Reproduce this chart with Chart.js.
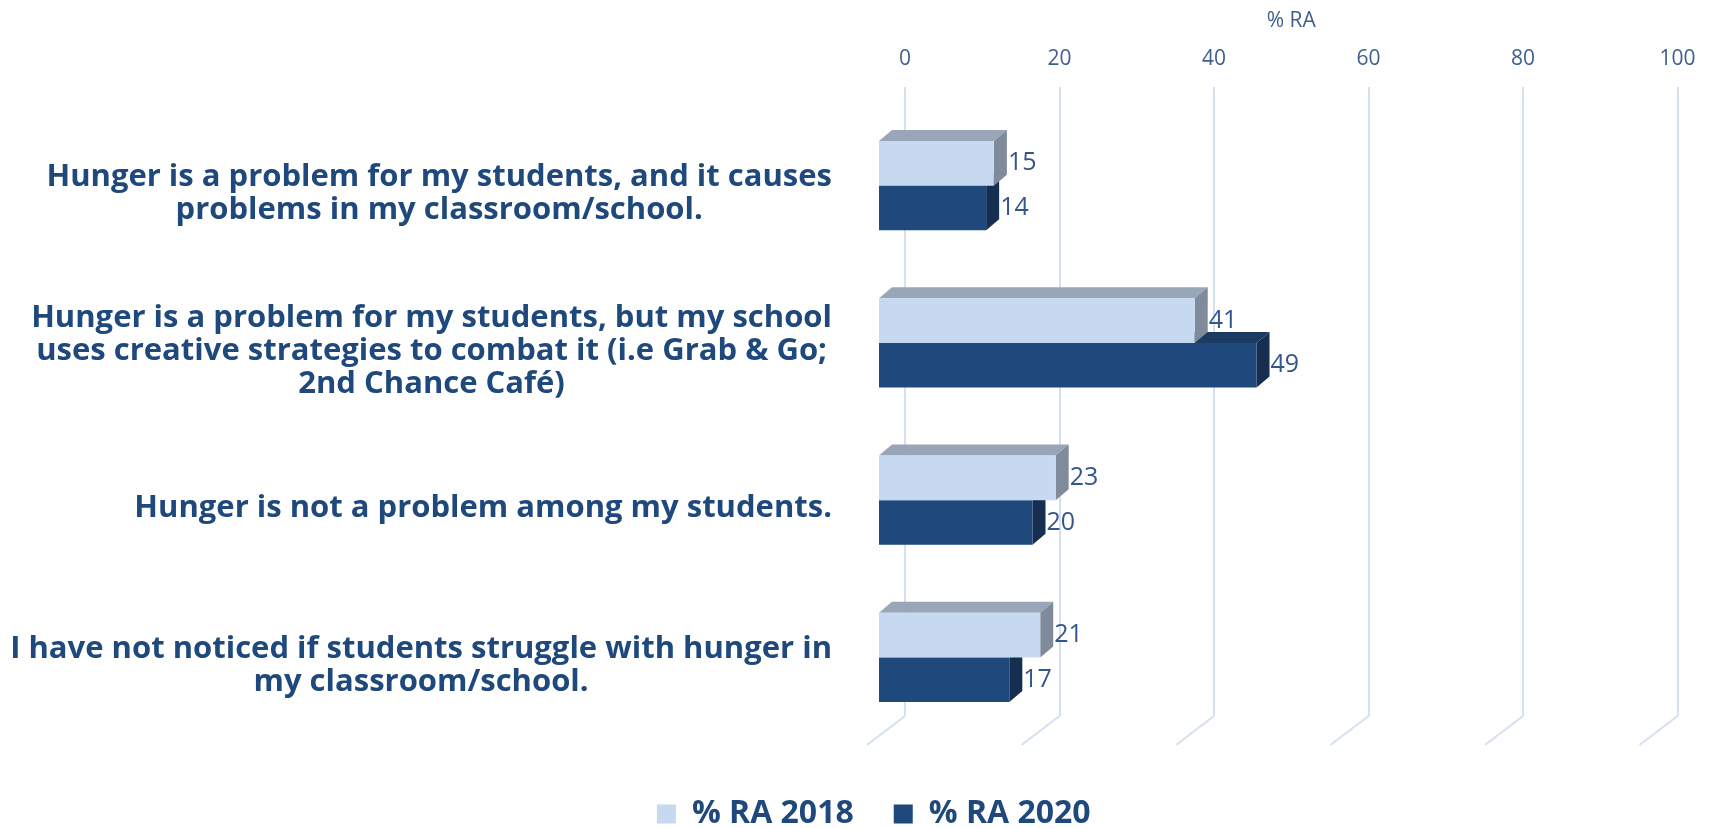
<!DOCTYPE html>
<html>
<head>
<meta charset="utf-8">
<script src="https://cdn.jsdelivr.net/npm/chart.js@4.4.1/dist/chart.umd.min.js"></script>
<style>
  body { margin: 0; background: #fff; }
  #wrap { width: 1713px; height: 828px; }
</style>
</head>
<body>
<div id="wrap"><canvas id="myChart"></canvas></div>
<script>
const categories = [
  ["Hunger is a problem for my students, and it causes", "problems in my classroom/school."],
  ["Hunger is a problem for my students, but my school", "uses creative strategies to combat it (i.e Grab & Go;", "2nd Chance Café)"],
  ["Hunger is not a problem among my students."],
  ["I have not noticed if students struggle with hunger in", "my classroom/school."]
];
const ra2018 = [15, 41, 23, 21];
const ra2020 = [14, 49, 20, 17];
const xTicks = [0, 20, 40, 60, 80, 100];

const gridColor = "#d5e0f1";
const tickColor = "#3f5f8e";
const labelColor = "#1f497d";

// front plane of the bars sits in front of the back wall
const FRONT_DX = -27, FRONT_DY = 20;
// bar depth (top / side faces)
const DEPTH_X = 13, DEPTH_Y = -11;
// floor lines under the back wall
const FLOOR_DX = -38, FLOOR_DY = 29;

const faces = [
  { top: "#98a6b8", side: "#7f8b9a" },   // 2018
  { top: "#1b3b63", side: "#162f50" }    // 2020
];

const bars3d = {
  id: "bars3d",
  afterLayout(chart) {
    // drop legend a bit lower, into the bottom padding
    chart.legend.top += 42;
    chart.legend.bottom += 42;
  },
  beforeDatasetsDraw(chart) {
    const ctx = chart.ctx;
    const x = chart.scales.x;
    const bottom = chart.chartArea.bottom;

    ctx.save();
    ctx.strokeStyle = gridColor;
    ctx.lineWidth = 2;
    xTicks.forEach(v => {
      const px = x.getPixelForValue(v);
      ctx.beginPath();
      ctx.moveTo(px, bottom);
      ctx.lineTo(px + FLOOR_DX, bottom + FLOOR_DY);
      ctx.stroke();
    });
    ctx.restore();

    ctx.save();
    ctx.translate(FRONT_DX, FRONT_DY);
    // lower series first so the upper bar covers its top face
    [1, 0].forEach(di => {
      chart.getDatasetMeta(di).data.forEach(bar => {
        const p = bar.getProps(["x", "y", "base", "height"], true);
        const t = p.y - p.height / 2, b = p.y + p.height / 2;
        ctx.fillStyle = faces[di].top;
        ctx.beginPath();
        ctx.moveTo(p.base, t);
        ctx.lineTo(p.x, t);
        ctx.lineTo(p.x + DEPTH_X, t + DEPTH_Y);
        ctx.lineTo(p.base + DEPTH_X, t + DEPTH_Y);
        ctx.closePath();
        ctx.fill();
        ctx.fillStyle = faces[di].side;
        ctx.beginPath();
        ctx.moveTo(p.x, t);
        ctx.lineTo(p.x + DEPTH_X, t + DEPTH_Y);
        ctx.lineTo(p.x + DEPTH_X, b + DEPTH_Y);
        ctx.lineTo(p.x, b);
        ctx.closePath();
        ctx.fill();
      });
    });
  },
  afterDatasetsDraw(chart) {
    const ctx = chart.ctx;
    ctx.font = '25px "Open Sans"';
    ctx.fillStyle = "#34568a";
    ctx.textAlign = "left";
    ctx.textBaseline = "middle";
    chart.data.datasets.forEach((ds, di) => {
      chart.getDatasetMeta(di).data.forEach((bar, i) => {
        const p = bar.getProps(["x", "y"], true);
        ctx.fillText(String(ds.data[i]), p.x + DEPTH_X + 1, p.y);
      });
    });
    ctx.restore();

    // category labels: lines centred in a block, block right aligned
    const y = chart.scales.y;
    const right = y.right - 73;
    const lineH = 33;
    ctx.save();
    ctx.font = 'bold 31px "Open Sans"';
    ctx.fillStyle = labelColor;
    ctx.textAlign = "center";
    ctx.textBaseline = "middle";
    categories.forEach((lines, i) => {
      const w = Math.max(...lines.map(l => ctx.measureText(l).width));
      const cx = right - w / 2;
      const cy = y.getPixelForValue(i) + FRONT_DY + 8;
      lines.forEach((l, k) => {
        ctx.fillText(l, cx, cy + (k - (lines.length - 1) / 2) * lineH);
      });
    });
    ctx.restore();
  }
};

new Chart("myChart", {
  type: "bar",
  data: {
    labels: categories,
    datasets: [
      { label: "% RA 2018", data: ra2018, backgroundColor: "#c6d9f1", borderWidth: 0, clip: false },
      { label: "% RA 2020", data: ra2020, backgroundColor: "#1f497d", borderWidth: 0, clip: false }
    ]
  },
  options: {
    indexAxis: "y",
    responsive: true,
    maintainAspectRatio: false,
    animation: false,
    categoryPercentage: 0.566,
    barPercentage: 1,
    layout: { padding: { left: 70, right: 35.5, top: 0, bottom: 30 } },
    scales: {
      x: {
        position: "top",
        min: 0,
        max: 100,
        afterBuildTicks: s => { s.ticks = xTicks.map(v => ({ value: v })); },
        afterFit: s => { s.height = 87; },
        ticks: { padding: 15, color: tickColor, font: { family: "Open Sans", size: 21 } },
        grid: { color: gridColor, lineWidth: 2, drawTicks: false },
        border: { display: false },
        title: {
          display: true,
          text: "% RA",
          color: tickColor,
          font: { family: "Open Sans", size: 21 },
          padding: { top: 8, bottom: 0 }
        }
      },
      y: {
        afterFit: s => { s.width = 835; },
        ticks: { display: false },
        grid: { display: false },
        border: { display: false }
      }
    },
    plugins: {
      legend: {
        position: "bottom",
        labels: {
          boxWidth: 19,
          boxHeight: 19,
          padding: 40,
          color: labelColor,
          font: { family: "Open Sans", size: 32, weight: "bold" }
        }
      },
      tooltip: { enabled: false }
    }
  },
  plugins: [bars3d]
});
</script>
</body>
</html>
